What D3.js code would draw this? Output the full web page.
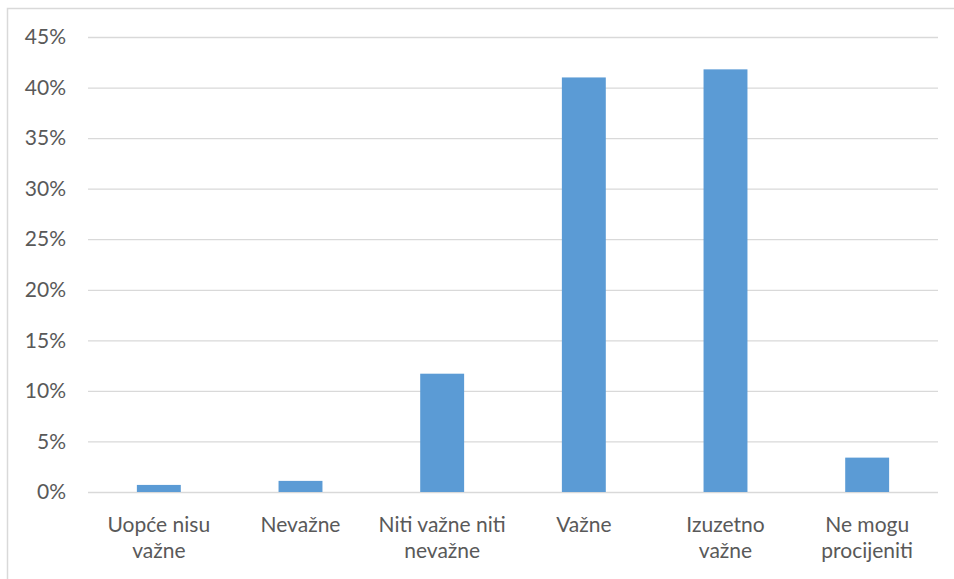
<!DOCTYPE html>
<html>
<head>
<meta charset="utf-8">
<script src="https://cdn.jsdelivr.net/npm/d3@7"></script>
<style>
  html, body { margin: 0; padding: 0; background: #fff; }
  svg { display: block; }
</style>
</head>
<body>
<svg id="chart" width="954" height="579"></svg>
<script>
// Survey answers: share of respondents per importance rating
const categories = [
  ["Uopće nisu", "važne"],
  ["Nevažne"],
  ["Niti važne niti", "nevažne"],
  ["Važne"],
  ["Izuzetno", "važne"],
  ["Ne mogu", "procijeniti"]
];
const values = [0.007, 0.011, 0.117, 0.410, 0.418, 0.034];
const yTicks = [0, 0.05, 0.10, 0.15, 0.20, 0.25, 0.30, 0.35, 0.40, 0.45];

const svg = d3.select("#chart");
const W = 954, H = 579;
const margin = { left: 88, right: 16, top: 37, bottom: 87 };
const plotW = W - margin.left - margin.right;
const plotH = H - margin.top - margin.bottom;
const font = "Lato, 'Open Sans', sans-serif";
const textColor = "#595959";

// Outer chart frame
svg.append("rect")
  .attr("x", 7.5).attr("y", 8.5)
  .attr("width", W + 10).attr("height", H + 10)
  .attr("fill", "none")
  .attr("stroke", "#d9d9d9")
  .attr("stroke-width", 1.5);

const g = svg.append("g").attr("transform", `translate(${margin.left},${margin.top})`);

const x = d3.scaleBand()
  .domain(d3.range(categories.length))
  .range([0, plotW])
  .paddingInner(0.69)
  .paddingOuter(0.345);

const y = d3.scaleLinear().domain([0, 0.45]).range([plotH, 0]);

// Horizontal gridlines with percentage labels
const yAxis = d3.axisLeft(y)
  .tickValues(yTicks)
  .tickSize(-plotW)
  .tickPadding(22)
  .tickFormat(d3.format(".0%"));

const yg = g.append("g").call(yAxis);
yg.select(".domain").remove();
yg.selectAll(".tick line").attr("stroke", "#d9d9d9").attr("stroke-width", 1.3);
yg.selectAll(".tick text")
  .attr("fill", textColor)
  .style("font-family", font)
  .style("font-size", "21px");

// Bars
g.selectAll("rect.bar")
  .data(values)
  .join("rect")
  .attr("class", "bar")
  .attr("x", (d, i) => x(i))
  .attr("y", d => y(d))
  .attr("width", x.bandwidth())
  .attr("height", d => plotH - y(d))
  .attr("fill", "#5b9bd5");

// Category labels (two lines where needed)
const xAxis = d3.axisBottom(x).tickSize(0).tickFormat("");
const xg = g.append("g").attr("transform", `translate(0,${plotH})`).call(xAxis);
xg.select(".domain").remove();
xg.selectAll(".tick").each(function(i) {
  const t = d3.select(this).append("text")
    .attr("fill", textColor)
    .attr("text-anchor", "middle")
    .style("font-family", font)
    .style("font-size", "21px");
  categories[i].forEach((line, k) => {
    t.append("tspan").attr("x", 0).attr("y", 40 + k * 26).text(line);
  });
});
</script>
</body>
</html>
